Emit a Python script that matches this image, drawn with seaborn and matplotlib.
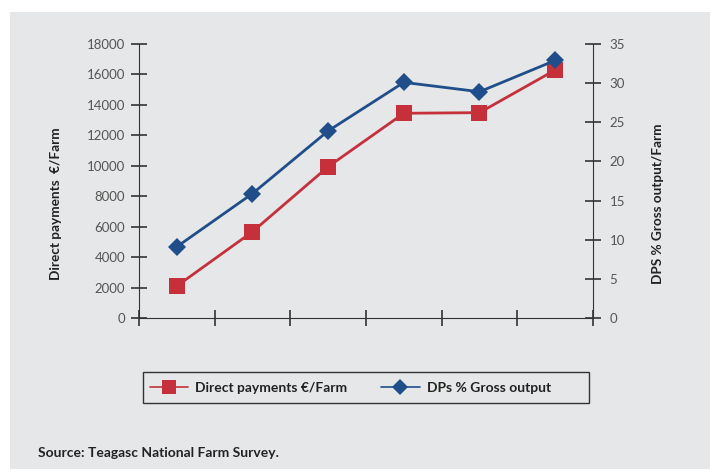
import pandas as pd
import seaborn as sns
import matplotlib.pyplot as plt
from matplotlib.patches import Rectangle
from matplotlib.lines import Line2D

categorias = ['1', '2', '3', '4', '5', '6']
pagamentos = [2100, 5670, 9940, 13450, 13490, 16290]
percentual = [9.1, 15.9, 23.9, 30.1, 28.9, 32.9]

df = pd.DataFrame({
    'POS': range(len(categorias)),
    'PAGAMENTOS': pagamentos,
    'PERCENTUAL': percentual,
})

vermelho = '#c5303b'
azul = '#1f4e8a'
cinza = '#e6e7e8'

sns.set_style('white')
plt.rcParams['font.family'] = ['Lato', 'DejaVu Sans']

fig = plt.figure(figsize=(7.1, 4.69), dpi=100)
fig.patch.set_facecolor('white')
fig.patches.append(Rectangle((10 / 710, 0), 700 / 710, 1 - 12 / 469,
                             transform=fig.transFigure, facecolor=cinza,
                             edgecolor='none', zorder=-10))

ax = fig.add_axes([139 / 710, 1 - 318 / 469, 454 / 710, 274 / 469])
ax.patch.set_alpha(0)
ax2 = ax.twinx()

sns.lineplot(data=df, x='POS', y='PAGAMENTOS', ax=ax, color=vermelho,
             marker='s', markersize=12, markeredgewidth=0, linewidth=2)
sns.lineplot(data=df, x='POS', y='PERCENTUAL', ax=ax2, color=azul,
             marker='D', markersize=9, markeredgewidth=0, linewidth=2)

ax.set_xlim(-0.5, len(categorias) - 0.5)
ax.set_xticks([i - 0.5 for i in range(len(categorias) + 1)])
ax.set_xticklabels([])
ax.set_ylim(0, 18000)
ax.set_yticks(range(0, 18001, 2000))
ax2.set_ylim(0, 35)
ax2.set_yticks(range(0, 36, 5))

for a in (ax, ax2):
    a.spines['top'].set_visible(False)
    a.tick_params(direction='inout', length=12, width=1.2, color='#333333',
                  labelcolor='#555555', labelsize=9.5)
ax.tick_params(bottom=True, left=True)
ax2.tick_params(right=True)
ax.spines['right'].set_visible(False)
ax2.spines['left'].set_visible(False)
ax2.spines['bottom'].set_visible(False)
ax.spines['left'].set_color('#333333')
ax.spines['bottom'].set_color('#333333')
ax2.spines['right'].set_color('#333333')
ax.tick_params(axis='y', pad=4)
ax2.tick_params(axis='y', pad=6)

ax.set_xlabel('')
ax.set_ylabel('Direct payments  €/Farm', fontsize=9.8, fontweight='bold',
              color='#222222')
ax2.set_ylabel('DPS % Gross output/Farm', fontsize=9.8, fontweight='bold',
               color='#222222')
ax.yaxis.set_label_coords(-77 / 454, 0.416)
ax2.yaxis.set_label_coords(1 + 59 / 454, 0.416)

# caixa da legenda
fig.patches.append(Rectangle((143 / 710, 1 - 403 / 469), 446 / 710, 31 / 469,
                             transform=fig.transFigure, facecolor='none',
                             edgecolor='#333333', linewidth=1.0))

handles = [
    Line2D([], [], color=vermelho, marker='s', markersize=10, linewidth=1.2,
           markeredgewidth=0),
    Line2D([], [], color=azul, marker='D', markersize=8, linewidth=1.2,
           markeredgewidth=0),
]
leg = fig.legend(handles, ['Direct payments €/Farm', 'DPs % Gross output'],
                 ncol=2, loc='center left',
                 bbox_to_anchor=(137 / 710, 1 - 388 / 469),
                 frameon=False, handlelength=2.8, handletextpad=0.5,
                 columnspacing=2.4,
                 prop={'weight': 'bold', 'size': 10})
for t in leg.get_texts():
    t.set_color('#222222')

fig.text(38 / 710, 1 - 453 / 469, 'Source: Teagasc National Farm Survey.',
         fontsize=10, fontweight='bold', color='#222222', va='center')

fig.savefig('out.png', dpi=100, facecolor=fig.get_facecolor())
